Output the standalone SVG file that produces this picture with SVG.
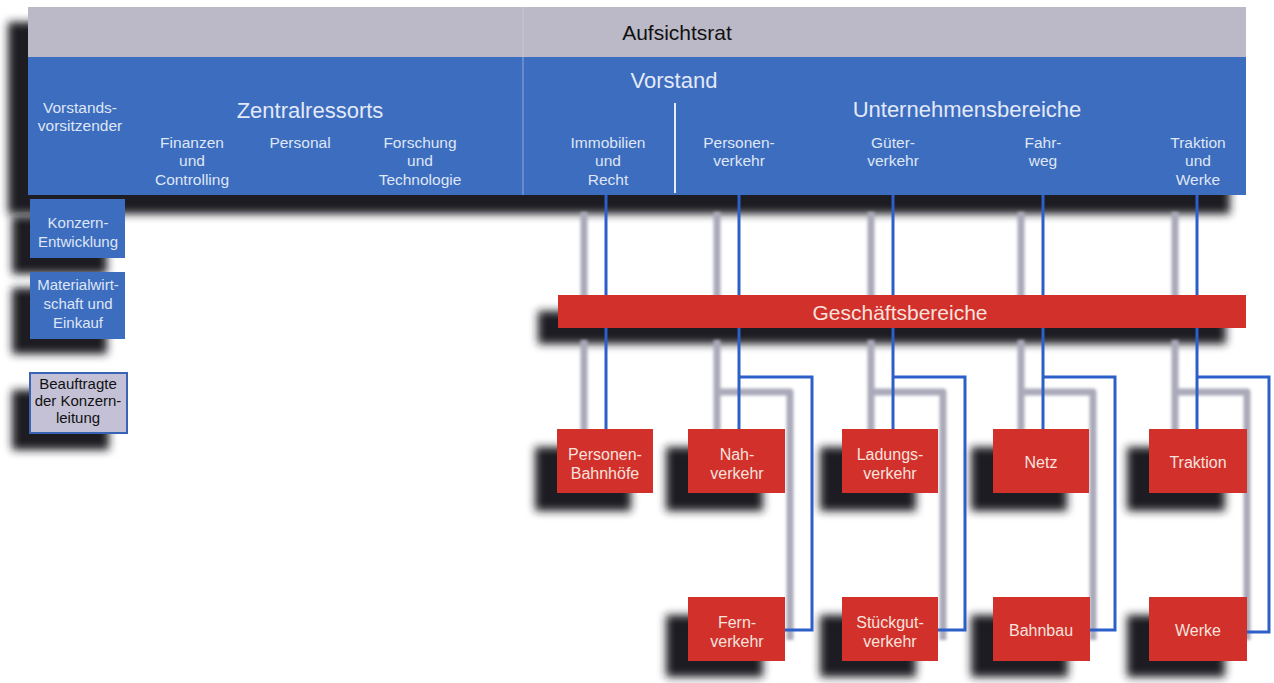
<svg xmlns="http://www.w3.org/2000/svg" width="1274" height="683" viewBox="0 0 1274 683">
<defs>
<filter id="blur" filterUnits="userSpaceOnUse" x="0" y="0" width="1274" height="683"><feGaussianBlur stdDeviation="4"/></filter>
<filter id="blur2" filterUnits="userSpaceOnUse" x="0" y="0" width="1274" height="683"><feGaussianBlur stdDeviation="1.4"/></filter>
</defs>
<style>
.sh{fill:#1e1e24;filter:url(#blur)}
.gl{fill:none;stroke:#a9a9ba;stroke-width:7;stroke-linejoin:round;filter:url(#blur2)}
.bl{fill:none;stroke:#2d5fc8;stroke-width:3}
.blue{fill:#3d6dbf}
.gray{fill:#bbb9c7}
.red{fill:#d1302b}
.t{font-family:"Liberation Sans",Arial,sans-serif;text-anchor:middle}
.tw{fill:#dfe6f5;font-size:15.5px}
.th{fill:#e3e9f7;font-size:22px}
.tr{fill:#f7e2de;font-size:16px}
.tk{fill:#111;font-size:16px}
</style>
<rect width="1274" height="683" fill="#fff"/>

<g id="shadows">
<rect class="sh" x="8" y="22" width="1222" height="192"/>
<rect class="sh" x="12" y="216" width="95" height="58"/>
<rect class="sh" x="12" y="288" width="95" height="66"/>
<rect class="sh" x="12" y="390" width="97" height="60"/>
<rect class="sh" x="538" y="311" width="688" height="33"/>
<rect class="sh" x="535" y="447" width="96" height="64"/>
<rect class="sh" x="666" y="447" width="97" height="64"/>
<rect class="sh" x="820" y="447" width="96" height="64"/>
<rect class="sh" x="971" y="447" width="96" height="64"/>
<rect class="sh" x="1127" y="447" width="98" height="64"/>
<rect class="sh" x="666" y="615" width="97" height="62"/>
<rect class="sh" x="820" y="615" width="96" height="62"/>
<rect class="sh" x="971" y="615" width="97" height="62"/>
<rect class="sh" x="1127" y="615" width="98" height="62"/>
</g>

<g id="connectors">
<g id="connector-shadows">
<path class="gl" d="M584 212V310M717 212V310M871 212V310M1021 212V310M1175 212V310"/>
<path class="gl" d="M584 340V440M717 340V440M871 340V440M1021 340V440M1175 340V440"/>
<path class="gl" d="M717 392H790V640"/>
<path class="gl" d="M871 392H943V640"/>
<path class="gl" d="M1021 392H1093V640"/>
<path class="gl" d="M1175 392H1247V640"/>
</g>
<path class="bl" d="M606 195V429"/>
<path class="bl" d="M739 195V429"/>
<path class="bl" d="M893 195V429"/>
<path class="bl" d="M1043 195V429"/>
<path class="bl" d="M1197 195V429"/>
<path class="bl" d="M739 377H812V630H785"/>
<path class="bl" d="M893 377H965V630H938"/>
<path class="bl" d="M1043 377H1115V630H1090"/>
<path class="bl" d="M1197 377H1269V632H1247"/>
</g>

<g id="aufsichtsrat">
<rect class="gray" x="28" y="7" width="1218" height="50"/>
<text class="t tk" x="677" y="40" style="font-size:21px">Aufsichtsrat</text>
</g>

<g id="vorstand">
<rect class="blue" x="28" y="57" width="1218" height="138"/>
<line x1="523" y1="7" x2="523" y2="195" stroke="#c8d2ea" stroke-width="1" opacity="0.6"/>
<text class="t th" x="674" y="88">Vorstand</text>
<line x1="675" y1="103" x2="675" y2="193" stroke="#e6ecf8" stroke-width="2"/>
</g>

<g id="vorstandsvorsitzender">
<text class="t tw" x="80" y="113">Vorstands-</text>
<text class="t tw" x="80" y="131">vorsitzender</text>
</g>

<g id="zentralressorts">
<text class="t th" x="310" y="118">Zentralressorts</text>
<g id="finanzen">
<text class="t tw" x="192" y="148">Finanzen</text>
<text class="t tw" x="192" y="166">und</text>
<text class="t tw" x="192" y="185">Controlling</text>
</g>
<g id="personal">
<text class="t tw" x="300" y="148">Personal</text>
</g>
<g id="forschung">
<text class="t tw" x="420" y="148">Forschung</text>
<text class="t tw" x="420" y="166">und</text>
<text class="t tw" x="420" y="185">Technologie</text>
</g>
</g>

<g id="immobilien">
<text class="t tw" x="608" y="148">Immobilien</text>
<text class="t tw" x="608" y="166">und</text>
<text class="t tw" x="608" y="185">Recht</text>
</g>

<g id="unternehmensbereiche">
<text class="t th" x="967" y="117">Unternehmensbereiche</text>
<g id="ub-personenverkehr">
<text class="t tw" x="739" y="148">Personen-</text>
<text class="t tw" x="739" y="166">verkehr</text>
</g>
<g id="ub-gueterverkehr">
<text class="t tw" x="893" y="148">Güter-</text>
<text class="t tw" x="893" y="166">verkehr</text>
</g>
<g id="ub-fahrweg">
<text class="t tw" x="1043" y="148">Fahr-</text>
<text class="t tw" x="1043" y="166">weg</text>
</g>
<g id="ub-traktion">
<text class="t tw" x="1198" y="148">Traktion</text>
<text class="t tw" x="1198" y="166">und</text>
<text class="t tw" x="1198" y="185">Werke</text>
</g>
</g>

<g id="konzernentwicklung">
<rect class="blue" x="30" y="199" width="95" height="59"/>
<text class="t tw" x="78" y="228" style="font-size:15px">Konzern-</text>
<text class="t tw" x="78" y="247" style="font-size:15px">Entwicklung</text>
</g>

<g id="materialwirtschaft">
<rect class="blue" x="30" y="272" width="95" height="67"/>
<text class="t tw" x="78" y="290" style="font-size:15px">Materialwirt-</text>
<text class="t tw" x="78" y="309" style="font-size:15px">schaft und</text>
<text class="t tw" x="78" y="328" style="font-size:15px">Einkauf</text>
</g>

<g id="beauftragte">
<rect x="30" y="373" width="97" height="60" fill="#c4c1d6" stroke="#3a62b5" stroke-width="2"/>
<text class="t tk" x="78" y="389" style="font-size:15px">Beauftragte</text>
<text class="t tk" x="78" y="406" style="font-size:15px">der Konzern-</text>
<text class="t tk" x="78" y="423" style="font-size:15px">leitung</text>
</g>

<g id="geschaeftsbereiche">
<rect class="red" x="558" y="295" width="688" height="33"/>
<text class="t" x="900" y="320" fill="#f7e2de" font-size="21">Geschäftsbereiche</text>
</g>

<g id="personenbahnhoefe">
<rect class="red" x="557" y="429" width="96" height="64"/>
<text class="t tr" x="605" y="460">Personen-</text>
<text class="t tr" x="605" y="479">Bahnhöfe</text>
</g>
<g id="nahverkehr">
<rect class="red" x="688" y="429" width="97" height="64"/>
<text class="t tr" x="737" y="460">Nah-</text>
<text class="t tr" x="737" y="479">verkehr</text>
</g>
<g id="ladungsverkehr">
<rect class="red" x="842" y="429" width="96" height="64"/>
<text class="t tr" x="890" y="460">Ladungs-</text>
<text class="t tr" x="890" y="479">verkehr</text>
</g>
<g id="netz">
<rect class="red" x="993" y="429" width="96" height="64"/>
<text class="t tr" x="1041" y="468">Netz</text>
</g>
<g id="traktion">
<rect class="red" x="1149" y="429" width="98" height="64"/>
<text class="t tr" x="1198" y="468">Traktion</text>
</g>
<g id="fernverkehr">
<rect class="red" x="688" y="597" width="97" height="64"/>
<text class="t tr" x="737" y="628">Fern-</text>
<text class="t tr" x="737" y="647">verkehr</text>
</g>
<g id="stueckgutverkehr">
<rect class="red" x="842" y="597" width="96" height="64"/>
<text class="t tr" x="890" y="628">Stückgut-</text>
<text class="t tr" x="890" y="647">verkehr</text>
</g>
<g id="bahnbau">
<rect class="red" x="993" y="597" width="97" height="64"/>
<text class="t tr" x="1041" y="636">Bahnbau</text>
</g>
<g id="werke">
<rect class="red" x="1149" y="597" width="98" height="64"/>
<text class="t tr" x="1198" y="636">Werke</text>
</g>
</svg>
